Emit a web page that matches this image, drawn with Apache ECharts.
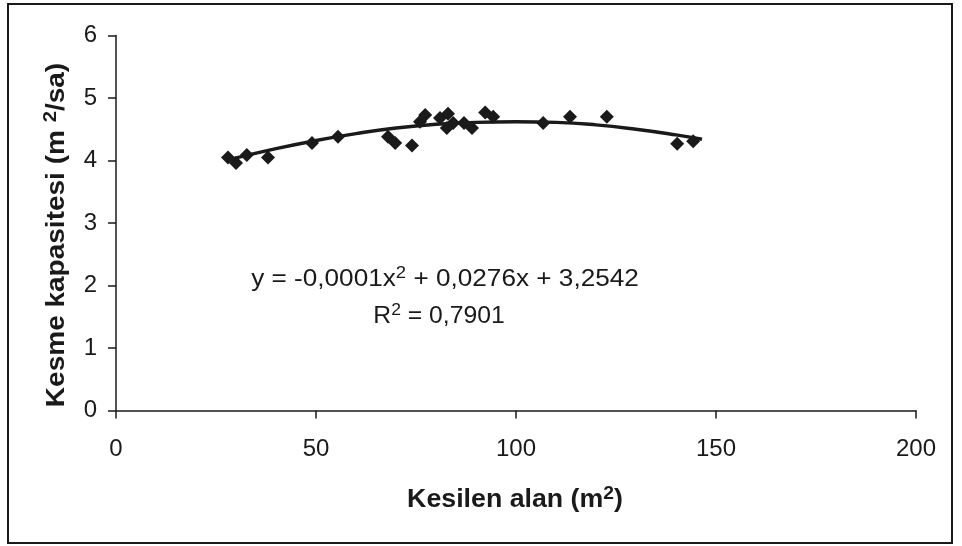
<!DOCTYPE html>
<html><head><meta charset="utf-8">
<script src="https://cdn.jsdelivr.net/npm/echarts@6/dist/echarts.min.js"></script>
<style>html,body{margin:0;padding:0;background:#fff}#c{width:962px;height:546px}</style>
</head><body><div id="c"></div>
<script>
// Observed points: Kesilen alan (m2) vs Kesme kapasitesi (m2/sa)
const areaX = [28, 30, 32.7, 38, 49, 55.5, 68, 69.8, 74, 76, 77.3, 81, 82.7, 83, 84.3, 87, 89, 92.3, 94.3, 106.8, 113.5, 122.7, 140.3, 144.3];
const capY  = [4.05, 3.96, 4.09, 4.05, 4.28, 4.38, 4.38, 4.28, 4.24, 4.62, 4.73, 4.68, 4.52, 4.75, 4.6, 4.6, 4.52, 4.77, 4.7, 4.6, 4.7, 4.7, 4.27, 4.31];
// Trend curve
const trendX = [28, 40, 50, 60, 70, 80, 90, 100, 110, 120, 130, 140, 146.5];
const trendY = [4.01, 4.19, 4.32, 4.43, 4.52, 4.58, 4.61, 4.62, 4.61, 4.57, 4.5, 4.41, 4.34];
const xTicks = [0, 50, 100, 150, 200];
const yTicks = [0, 1, 2, 3, 4, 5, 6];

const ink = '#1a1a1a';
const font = 'Liberation Sans, Arial, sans-serif';
const chart = echarts.init(document.getElementById('c'));
chart.setOption({
  animation: false,
  backgroundColor: '#fff',
  grid: { left: 116, right: 46, top: 35.5, bottom: 135.5 },
  xAxis: {
    type: 'value', min: xTicks[0], max: xTicks[xTicks.length - 1], interval: 50,
    axisLine: { lineStyle: { color: ink, width: 1.5 } },
    axisTick: { length: 8, lineStyle: { color: ink, width: 1.5 } },
    axisLabel: { margin: 27, fontSize: 24, color: ink, fontFamily: font },
    splitLine: { show: false }
  },
  yAxis: {
    type: 'value', min: yTicks[0], max: yTicks[yTicks.length - 1], interval: 1,
    axisLine: { show: true, lineStyle: { color: ink, width: 1.5 } },
    axisTick: { show: true, length: 8, lineStyle: { color: ink, width: 1.5 } },
    axisLabel: { margin: 19, fontSize: 24, color: ink, fontFamily: font },
    splitLine: { show: false }
  },
  series: [
    {
      type: 'line', data: trendX.map((x, i) => [x, trendY[i]]), smooth: true,
      showSymbol: false, lineStyle: { color: ink, width: 3.5 }, z: 2
    },
    {
      type: 'scatter', data: areaX.map((x, i) => [x, capY[i]]),
      symbol: 'diamond', symbolSize: 14, itemStyle: { color: ink, opacity: 1 }, z: 3
    }
  ],
  graphic: [
    { type: 'rect', shape: { x: 8, y: 4, width: 944, height: 539 }, style: { fill: 'none', stroke: ink, lineWidth: 2 }, silent: true },
    {
      type: 'text', x: 515, y: 500, scaleX: 1.07,
      style: {
        text: '{a|Kesilen alan (m}{s|2}{a|)}', align: 'center', verticalAlign: 'middle',
        rich: {
          a: { fontSize: 25, fontWeight: 'bold', fontFamily: font, fill: ink, lineHeight: 30 },
          s: { fontSize: 18, fontWeight: 'bold', fontFamily: font, fill: ink, verticalAlign: 'top', lineHeight: 30, padding: [0, 0, 10, 0] }
        }
      }
    },
    {
      type: 'text', x: 57, y: 235, rotation: Math.PI / 2, scaleX: 1.12,
      style: {
        text: '{a|Kesme kapasitesi (m }{s|2}{a|/sa)}', align: 'center', verticalAlign: 'middle',
        rich: {
          a: { fontSize: 25, fontWeight: 'bold', fontFamily: font, fill: ink, lineHeight: 30 },
          s: { fontSize: 18, fontWeight: 'bold', fontFamily: font, fill: ink, verticalAlign: 'top', lineHeight: 30, padding: [0, 0, 10, 0] }
        }
      }
    },
    {
      type: 'text', x: 445, y: 279, scaleX: 1.09,
      style: {
        text: '{a|y = -0,0001x}{s|2}{a| + 0,0276x + 3,2542}', align: 'center', verticalAlign: 'middle',
        rich: {
          a: { fontSize: 24, fontFamily: font, fill: ink, lineHeight: 28 },
          s: { fontSize: 17, fontFamily: font, fill: ink, verticalAlign: 'top', lineHeight: 28, padding: [0, 0, 10, 0] }
        }
      }
    },
    {
      type: 'text', x: 439, y: 316, scaleX: 1.03,
      style: {
        text: '{a|R}{s|2}{a| = 0,7901}', align: 'center', verticalAlign: 'middle',
        rich: {
          a: { fontSize: 24, fontFamily: font, fill: ink, lineHeight: 28 },
          s: { fontSize: 17, fontFamily: font, fill: ink, verticalAlign: 'top', lineHeight: 28, padding: [0, 0, 10, 0] }
        }
      }
    }
  ]
});
</script></body></html>
